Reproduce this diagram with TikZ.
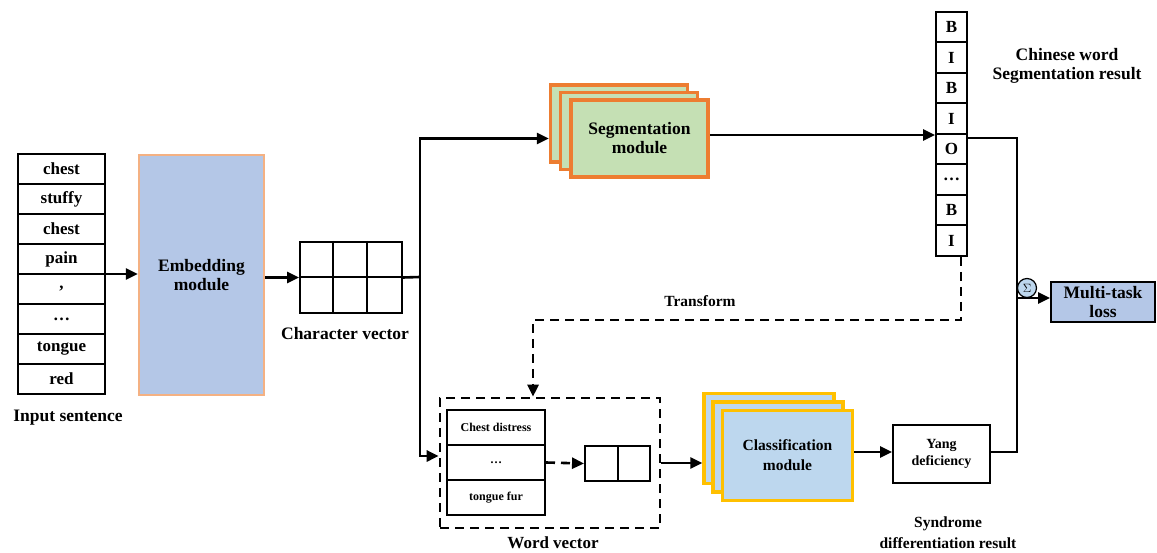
\documentclass[tikz,border=0pt]{standalone}
\usepackage{fontspec}
\setmainfont{Liberation Serif}
\usetikzlibrary{arrows.meta}

\definecolor{embfill}{RGB}{180,199,231}
\definecolor{embdraw}{RGB}{244,177,131}
\definecolor{segfill}{RGB}{197,224,180}
\definecolor{segdraw}{RGB}{237,125,49}
\definecolor{clsfill}{RGB}{189,215,238}
\definecolor{clsdraw}{RGB}{255,192,0}

\tikzset{every picture/.style={line width=0.75pt}}
\tikzset{
  bigtxt/.style={font=\fontsize{17.5}{19}\selectfont\bfseries, align=center},
  wcell/.style={draw, line width=2pt, minimum width=87pt, minimum height=30pt, inner sep=0pt, font=\fontsize{17}{19}\selectfont\bfseries},
  biocell/.style={draw, line width=2pt, minimum width=31pt, minimum height=30.5pt, inner sep=0pt, font=\fontsize{17}{19}\selectfont\bfseries},
  vcell/.style={draw, line width=2pt, minimum width=98pt, minimum height=35pt, inner sep=0pt, font=\fontsize{12}{14}\selectfont\bfseries},
  segbox/.style={draw=segdraw, fill=segfill, line width=3.5pt, minimum width=137pt, minimum height=77pt, inner sep=0pt},
  clsbox/.style={draw=clsdraw, fill=clsfill, line width=3.5pt, minimum width=130pt, minimum height=90pt, inner sep=0pt},
  conn/.style={line width=2.6pt, -{Triangle[length=12pt,width=11pt]}},
  dconn/.style={conn, dash pattern=on 9pt off 6pt},
}

\begin{document}
\begin{tikzpicture}[x=1pt,y=1pt,yscale=-1,xscale=1]
	\useasboundingbox (0,0) rectangle (1157,553);

	% input sentence
	\foreach \w [count=\i] in {chest,stuffy,chest,pain,{,},\dots,tongue,red}
		\node[wcell] (w\i) at (61.5,{139+30*\i}) {\w};
	\node[bigtxt] (intxt) at (68,418) {Input sentence};

	% embedding module
	\node[draw=embdraw, fill=embfill, line width=2.5pt, minimum width=125pt, minimum height=240pt, bigtxt] (emb) at (201.5,275) {Embedding\\module};
	\draw[conn] (105,274) -- (emb.west |- 0,274);

	% character vector
	\node[draw, line width=2pt, minimum width=102pt, minimum height=71pt, inner sep=0pt] (cv) at (351,277.5) {};
	\draw[line width=2pt] (cv.west) -- (cv.east);
	\foreach \k in {1,2}
		\draw[line width=2pt] (cv.north west) ++(34*\k,0) -- ++(0,71);
	\node[bigtxt] (cvtxt) at (345,334) {Character vector};
	\draw[conn] (emb.east |- cv.west) -- (cv.west);

	% segmentation module
	\node[segbox] (segb) at (619,123.5) {};
	\node[segbox] (segm) at (629,131) {};
	\node[segbox, bigtxt] (segf) at (639.5,138.5) {Segmentation\\module};

	% word vector block
	\node[draw, line width=2.6pt, dash pattern=on 9pt off 6pt, minimum width=220pt, minimum height=130pt] (wvbox) at (550,463) {};
	\node[vcell] (v1) at (496,427.5) {Chest distress};
	\node[vcell] (v2) at (496,462.5) {\dots};
	\node[vcell] (v3) at (496,497.5) {tongue fur};
	\node[draw, line width=2pt, minimum width=65pt, minimum height=35pt, inner sep=0pt] (sv) at (617.5,463.5) {};
	\draw[line width=2pt] (sv.north) -- (sv.south);
	\draw[dconn] (v2.east) -- (sv.west);
	\node[font=\fontsize{17}{19}\selectfont\bfseries] (wvtxt) at (553,543) {Word vector};

	% split after the character vector
	\draw[line width=2.6pt] (cv.east) -- (420,277) coordinate (split);
	\draw[conn] (split) |- (segb.west |- segf.center);
	\draw[conn] (split) |- ([yshift=-7pt]wvbox.west);

	% BIO tags
	\foreach \t [count=\i] in {B,I,B,I,O,\dots,B,I}
		\node[biocell] (b\i) at (951.5,{-3.25+30.5*\i}) {\t};
	\node[bigtxt] (cwtxt) at (1067,66) {Chinese word\\Segmentation result};
	\draw[conn] (segf.east |- b4.south) -- (b4.south west);

	% classification module
	\node[clsbox] (clsb) at (769,438.5) {};
	\node[clsbox] (clsm) at (778,447) {};
	\node[clsbox, font=\fontsize{15.5}{20}\selectfont\bfseries, align=center] (clsf) at (787.5,455.5) {Classification\\module};
	\draw[conn] (wvbox.east) -- (wvbox.east -| clsb.west);

	% syndrome result
	\node[draw, line width=2pt, minimum width=97pt, minimum height=58pt, inner sep=0pt, font=\fontsize{14}{17}\selectfont\bfseries, align=center] (yang) at (941.5,454) {Yang\\deficiency};
	\node[font=\fontsize{15.5}{21}\selectfont\bfseries, align=center] (sdtxt) at (948,533) {Syndrome\\differentiation result};
	\draw[conn] (clsf.east |- 0,452) -- (yang.west |- 0,452);

	% multi-task loss
	\coordinate (jn) at (1017,298);
	\node[draw, line width=2pt, fill=embfill, minimum width=104pt, minimum height=40pt, inner sep=0pt, font=\fontsize{17.5}{19}\selectfont\bfseries, align=center] (loss) at (1103,302) {Multi-task\\loss};
	\draw[line width=2.6pt] ([yshift=3pt]b4.south east) -| (jn);
	\draw[line width=2.6pt] (yang.east |- 0,452) -| (jn);
	\draw[conn] (jn) -- (loss.west |- jn);
	\node[draw, line width=1.2pt, fill=clsfill, circle, minimum size=19pt, inner sep=0pt, font=\fontsize{13}{13}\selectfont] (sig) at (1027,288) {$\Sigma$};

	% transform
	\coordinate (tin) at ([xshift=-17pt]wvbox.north);
	\draw[dconn] ([xshift=9.5pt]b8.south) -- ++(0,63) -| (tin);
	\node[font=\fontsize{15.5}{18}\selectfont\bfseries] (trtxt) at (700,301) {Transform};

\end{tikzpicture}
\end{document}
